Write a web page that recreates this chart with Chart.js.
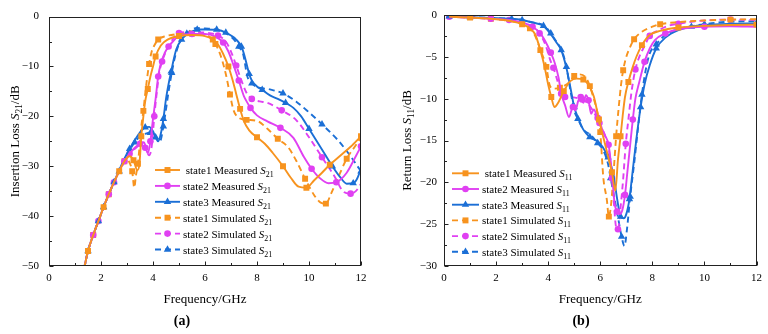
<!DOCTYPE html>
<html>
<head>
<meta charset="utf-8">
<script src="https://cdn.jsdelivr.net/npm/chart.js@4.4.0/dist/chart.umd.min.js"></script>
<style>
    html, body { margin: 0; padding: 0; background: #fff; }
    #wrap { display: flex; width: 768px; height: 334px; }
    canvas { display: block; }
</style>
</head>
<body>
<div id="wrap">
    <canvas id="s21-chart" width="384" height="334"></canvas>
    <canvas id="s11-chart" width="384" height="334"></canvas>
</div>
<script>
// ---- (a) insertion loss S21, frequency in GHz / value in dB ----
const s21MeasF1 = [1.35,1.5,1.7,1.9,2.1,2.3,2.5,2.7,2.9,3.1,3.25,3.4,3.48,3.55,3.62,3.7,3.8,3.9,4.0,4.1,4.3,4.6,5.0,5.5,6.0,6.3,6.5,6.7,6.9,7.05,7.2,7.35,7.5,7.7,8.0,8.3,8.6,9.0,9.3,9.6,9.9,10.2,10.5,10.8,11.2,11.6,12.0];
const s21Meas1  = [-50.5,-47,-43.8,-41,-38.2,-35.6,-33.2,-31,-29,-28,-28.8,-30.8,-29.5,-24,-20.5,-17,-14.5,-12,-10,-8,-5.8,-4.5,-3.9,-3.7,-3.9,-4.6,-5.6,-7.5,-10,-12.5,-15.5,-18.5,-21,-22.8,-24.2,-25.5,-27.3,-30,-32.3,-34.1,-34.3,-32.8,-31.3,-29.7,-27.9,-26.1,-24];

const s21MeasF2 = [1.35,1.5,1.7,1.9,2.1,2.3,2.5,2.7,2.9,3.1,3.3,3.5,3.65,3.8,3.9,4.0,4.1,4.2,4.3,4.45,4.6,4.8,5.0,5.5,6.0,6.4,6.7,6.9,7.1,7.3,7.5,7.6,7.75,8.0,8.4,8.9,9.4,9.8,10.1,10.4,10.75,11.05,11.45,11.8,12.0];
const s21Meas2  = [-50.5,-47,-43.8,-41,-38.2,-35.6,-33.2,-31,-29,-27.5,-26.3,-25.5,-25.2,-27.4,-25,-20.5,-16.5,-12,-9.4,-7.3,-6,-4.8,-3.8,-3.5,-3.5,-4,-5.2,-7,-9.8,-12.8,-16,-17,-18.3,-19.8,-21,-22.3,-24.3,-28.1,-30.5,-32.3,-33.4,-33.2,-31.3,-28,-26];

const s21MeasF3 = [1.35,1.5,1.7,1.9,2.1,2.3,2.5,2.7,2.9,3.1,3.3,3.5,3.7,3.85,4.0,4.1,4.2,4.3,4.4,4.5,4.6,4.7,4.8,4.9,5.1,5.3,5.5,5.7,6.0,6.5,6.8,7.0,7.2,7.4,7.5,7.6,7.7,7.8,8.0,8.2,8.5,8.8,9.1,9.4,9.7,10.0,10.3,10.6,10.9,11.2,11.45,11.7,11.85,12.0];
const s21Meas3  = [-50.5,-47,-43.8,-41,-38.2,-35.6,-33.2,-30.8,-28.5,-26.5,-24.8,-23.2,-22.2,-22.1,-23,-24.2,-25,-23.5,-20.5,-16.5,-13.5,-11,-8.5,-6.5,-4.6,-3.6,-3,-2.6,-2.6,-2.7,-3.2,-3.8,-4.6,-6,-7.5,-9.5,-11.5,-12.8,-14,-14.7,-15.8,-16.5,-17.3,-18.3,-20,-22.5,-25,-27.5,-30,-32.2,-33.5,-33.4,-32.5,-30.5];

const s21SimF1 = [1.35,1.5,1.7,1.9,2.1,2.3,2.5,2.7,2.9,3.0,3.1,3.2,3.28,3.34,3.42,3.5,3.56,3.63,3.7,3.76,3.85,3.95,4.05,4.2,4.5,5.0,5.5,6.0,6.2,6.4,6.6,6.8,6.96,7.1,7.3,7.6,8.0,8.4,8.8,9.2,9.5,9.85,10.2,10.45,10.65,10.85,11.06,11.45,11.8,12.0];
const s21Sim1  = [-50.5,-47,-43.8,-41,-38.2,-35.6,-33.2,-31,-29,-28.7,-29.3,-31,-34.3,-32,-29.5,-25,-21.6,-18.9,-15.5,-12.9,-9.5,-7,-5.8,-4.6,-3.9,-3.5,-3.4,-3.6,-4.2,-5.5,-7.8,-11.5,-15.6,-18.8,-20.3,-20.7,-20.9,-22.5,-24.5,-26.2,-28.8,-32.5,-35.8,-37.3,-37.5,-35.5,-33,-28.5,-25.8,-24.2];

const s21SimF2 = [1.35,1.5,1.7,1.9,2.1,2.3,2.5,2.7,2.9,3.1,3.3,3.5,3.7,3.85,3.95,4.05,4.15,4.25,4.35,4.5,4.7,5.0,5.5,6.0,6.5,6.8,7.0,7.2,7.4,7.6,7.8,8.1,8.4,8.95,9.5,10.0,10.5,11.0,11.3,11.6,11.8,12.0];
const s21Sim2  = [-50.5,-47,-43.8,-41,-38.2,-35.6,-33.2,-31,-29,-27.5,-26.5,-25.8,-26.3,-27.8,-26,-20,-15,-11,-9,-7,-5,-3.3,-3.1,-3.2,-3.8,-5,-7,-9.8,-12.8,-15.3,-16.5,-17,-17.3,-18.8,-20.7,-24.2,-28.2,-32.2,-35,-35.5,-35,-33.5];

const s21SimF3 = [1.35,1.5,1.7,1.9,2.1,2.3,2.5,2.7,2.9,3.1,3.3,3.5,3.7,3.9,4.1,4.27,4.4,4.5,4.6,4.72,4.85,5.04,5.3,5.68,6.0,6.45,6.8,7.1,7.3,7.47,7.63,7.8,8.0,8.5,9.0,9.5,10.0,10.5,11.1,11.5,12.0];
const s21Sim3  = [-50.5,-47,-43.8,-41,-38.2,-35.6,-33.2,-31,-29,-26.8,-25.2,-24,-23.5,-23.3,-24,-25,-22,-18.6,-15,-11.3,-8,-5,-3.4,-2.3,-2.4,-2.6,-3.3,-4.5,-6,-7.6,-12,-13.4,-14.1,-14.6,-15.4,-17,-19.2,-21.6,-24.7,-27.3,-31];

// ---- (b) return loss S11 ----
const s11MeasF1 = [0.2,1.0,1.8,2.6,3.0,3.3,3.5,3.7,3.85,4.0,4.12,4.24,4.4,4.6,4.85,5.1,5.35,5.55,5.75,5.95,6.15,6.3,6.45,6.58,6.68,6.78,6.86,6.95,7.08,7.25,7.4,7.6,7.9,8.3,9.0,10.0,11.0,12.0];
const s11Meas1  = [-0.2,-0.3,-0.45,-0.75,-1.1,-1.6,-2.3,-4.2,-6,-8.3,-9.8,-11,-10.4,-9.1,-7.9,-7.6,-7.7,-8.4,-9.7,-12.5,-15,-16.9,-18.8,-21,-17.3,-14.5,-12.1,-9.8,-8,-6.2,-4.9,-3.6,-2.4,-1.9,-1.5,-1.3,-1.2,-1.15];

const s11MeasF2 = [0.2,1.0,1.8,2.5,3.0,3.4,3.7,3.9,4.1,4.25,4.4,4.5,4.65,4.8,4.95,5.05,5.15,5.25,5.35,5.45,5.55,5.65,5.75,5.9,6.05,6.2,6.32,6.45,6.55,6.65,6.75,6.85,6.95,7.05,7.15,7.25,7.35,7.5,7.7,7.9,8.1,8.5,9.0,9.5,10.0,11.0,12.0];
const s11Meas2  = [-0.2,-0.3,-0.45,-0.6,-0.9,-1.4,-2.2,-3.2,-4.5,-5.7,-7.5,-9.4,-10.8,-12.2,-11,-11.4,-10.3,-9.8,-10.5,-9.6,-10.2,-11.8,-11.3,-12.3,-13.5,-14.5,-15.5,-19,-22.5,-23.5,-23.8,-23.3,-21.5,-18.5,-15.5,-12.5,-10,-8,-5.6,-4,-3,-2.2,-1.7,-1.5,-1.4,-1.35,-1.4];

const s11MeasF3 = [0.2,1.0,1.8,2.6,3.0,3.4,3.82,4.1,4.3,4.5,4.7,4.85,5.0,5.15,5.35,5.6,5.9,6.1,6.3,6.5,6.65,6.78,6.9,7.0,7.12,7.25,7.4,7.55,7.7,7.9,8.15,8.5,9.0,9.5,10.0,11.0,12.0];
const s11Meas3  = [-0.15,-0.25,-0.35,-0.45,-0.6,-0.9,-1.3,-2.3,-3.2,-4.2,-6.3,-8.6,-11,-12.3,-13.7,-14.6,-15.1,-15.8,-17,-19,-22,-24.1,-24.3,-23.8,-22,-18.5,-14.5,-11,-8.3,-6,-4,-2.7,-1.8,-1.4,-1.2,-1.05,-1.0];

const s11SimF1 = [0.2,1.0,1.8,2.6,3.0,3.3,3.5,3.73,3.93,4.05,4.2,4.45,4.65,4.85,5.0,5.2,5.45,5.6,5.75,5.9,6.0,6.12,6.25,6.33,6.42,6.52,6.61,6.71,6.8,6.88,7.0,7.15,7.3,7.6,8.0,8.3,9.0,10.0,11.0,12.0];
const s11Sim1  = [-0.2,-0.3,-0.45,-0.75,-1.1,-1.6,-2.5,-4.4,-6.2,-8.3,-8.8,-8.7,-8.4,-7.9,-7.3,-7.1,-7.5,-8.5,-10,-11.8,-14,-19.5,-22,-24.1,-22.5,-18.5,-14.5,-11,-8.3,-6.6,-5,-3.8,-2.9,-2,-1.4,-1.1,-0.85,-0.65,-0.55,-0.5];

const s11SimF2 = [0.2,1.0,1.8,2.5,3.0,3.4,3.67,3.9,4.08,4.2,4.35,4.5,4.65,4.82,5.08,5.3,5.5,5.71,5.97,6.23,6.35,6.45,6.52,6.6,6.68,6.78,6.88,6.98,7.08,7.2,7.35,7.5,7.7,7.9,8.2,8.6,9.0,9.5,10.0,11.0,12.0];
const s11Sim2  = [-0.2,-0.3,-0.45,-0.6,-0.9,-1.4,-2.2,-3.6,-5.4,-6.3,-7.8,-9.3,-9.8,-9.8,-9.9,-10.1,-10.5,-11.4,-12.9,-14.9,-16.5,-19.5,-22.3,-25.2,-25.6,-23,-19.6,-15.4,-12.5,-9.2,-6.5,-5,-3.7,-2.5,-1.9,-1.3,-1.05,-0.8,-0.65,-0.55,-0.6];

const s11SimF3 = [0.2,1.0,1.8,2.6,3.0,3.4,3.86,4.1,4.3,4.52,4.7,4.82,5.01,5.14,5.33,5.65,5.9,6.1,6.29,6.4,6.55,6.7,6.82,6.93,7.03,7.15,7.3,7.45,7.6,7.75,7.9,8.15,8.5,9.0,10.0,11.0,12.0];
const s11Sim3  = [-0.15,-0.25,-0.35,-0.45,-0.6,-0.9,-1.3,-2.2,-3.1,-4.2,-6.2,-8.4,-11.5,-12.4,-13.6,-14.4,-15.3,-16.1,-17.7,-19.5,-22,-24.5,-26.5,-27.6,-25.5,-21.7,-17.8,-13.5,-9.5,-6.5,-4.6,-3.5,-2.4,-1.7,-1.1,-0.8,-0.75];

const legendNames = [' state1 Measured', 'state2 Measured', 'state3 Measured', 'state1 Simulated', 'state2 Simulated', 'state3 Simulated'];
const freqTicks = [0, 2, 4, 6, 8, 10, 12];

const ORANGE = '#F7931E';
const MAGENTA = '#E040F2';
const BLUE = '#1B6FD6';
const FONT = '"Liberation Serif", "Times New Roman", serif';
const markerSize = { rect: 4.2, circle: 3.3, triangle: 4.3 };

const pts = (xs, ys) => xs.map((x, i) => ({ x, y: ys[i] }));
const minus = v => (v < 0 ? '\u2212' + Math.abs(v) : String(v));

function series(label, xs, ys, color, style, dashed, offset) {
    return {
        label,
        data: pts(xs, ys),
        borderColor: color,
        backgroundColor: color,
        borderWidth: 1.9,
        borderDash: dashed ? [6, 4] : [],
        pointStyle: style,
        pointRadius: ctx => (ctx.dataIndex % 3 === offset ? markerSize[style] : 0),
        pointHoverRadius: 0,
        pointBorderWidth: 0,
        cubicInterpolationMode: 'monotone',
        fill: false,
    };
}

// text with italic S and subscript
function richText(ctx, parts, x, y, size, align) {
    const fontFor = p => `${p.italic ? 'italic ' : ''}${p.sub ? size * 0.72 : size}px ${FONT}`;
    let w = 0;
    parts.forEach(p => { ctx.font = fontFor(p); w += ctx.measureText(p.t).width; });
    let cx = align === 'center' ? x - w / 2 : x;
    ctx.textAlign = 'left';
    ctx.textBaseline = 'alphabetic';
    parts.forEach(p => {
        ctx.font = fontFor(p);
        ctx.fillText(p.t, cx, y + (p.sub ? size * 0.28 : 0));
        cx += ctx.measureText(p.t).width;
    });
}

const decor = {
    id: 'decor',
    afterDatasetsDraw(chart, args, o) {
        const { ctx, chartArea: a, scales: { x, y } } = chart;
        const L = Math.round(a.left) + 0.5, R = Math.round(a.right) - 0.5;
        const T = Math.round(a.top) + 0.5, B = Math.round(a.bottom) - 0.5;
        ctx.save();
        ctx.strokeStyle = '#222';
        ctx.lineWidth = 1;
        ctx.strokeRect(L, T, R - L, B - T);
        ctx.beginPath();
        for (let i = 0; i <= 12; i++) {
            const px = Math.round(x.getPixelForValue(i)) + 0.5;
            ctx.moveTo(px, B);
            ctx.lineTo(px, B - (i % 2 === 0 ? 4 : 2.5));
        }
        const n = Math.round((y.max - y.min) / o.yMinor);
        for (let i = 0; i <= n; i++) {
            const py = Math.round(y.getPixelForValue(y.min + i * o.yMinor)) + 0.5;
            ctx.moveTo(L, py);
            ctx.lineTo(L + (i % 2 === 0 ? 4 : 2.5), py);
        }
        ctx.stroke();
        ctx.restore();
    },
    afterDraw(chart, args, o) {
        const { ctx, chartArea: a } = chart;
        ctx.save();
        ctx.fillStyle = '#000';

        ctx.font = `13px ${FONT}`;
        ctx.textAlign = 'center';
        ctx.textBaseline = 'middle';
        ctx.fillText('Frequency/GHz', (a.left + a.right) / 2, 300);
        ctx.font = `bold 14px ${FONT}`;
        ctx.fillText(o.panel, o.panelX, 321);

        ctx.save();
        ctx.translate(o.yTitleX, (a.top + a.bottom) / 2);
        ctx.rotate(-Math.PI / 2);
        richText(ctx, [{ t: o.yTitle }, { t: 'S', italic: true }, { t: o.sub, sub: true }, { t: '/dB' }], 0, 4.5, 13, 'center');
        ctx.restore();

        const lg = o.legend;
        chart.data.datasets.forEach((ds, i) => {
            const yy = lg.y + i * lg.dy;
            ctx.save();
            ctx.strokeStyle = ds.borderColor;
            ctx.lineWidth = 1.9;
            ctx.setLineDash(ds.borderDash);
            ctx.beginPath();
            ctx.moveTo(lg.x, yy);
            ctx.lineTo(lg.x + lg.len, yy);
            ctx.stroke();
            ctx.setLineDash([]);
            ctx.fillStyle = ds.borderColor;
            Chart.helpers.drawPoint(ctx, { pointStyle: ds.pointStyle, radius: markerSize[ds.pointStyle], rotation: 0, borderWidth: 0 }, lg.x + lg.len / 2, yy);
            ctx.restore();
            ctx.fillStyle = '#000';
            richText(ctx, [{ t: ds.label + ' ' }, { t: 'S', italic: true }, { t: o.sub, sub: true }], lg.textX, yy + 4, 11, 'left');
        });
        ctx.restore();
    }
};

function buildOptions(yMin, yStep, yMinor, yWidth, yPad, padRight, decorOpts) {
    return {
        responsive: false,
        animation: false,
        layout: { padding: { left: 0, top: 15, right: padRight, bottom: 0 } },
        scales: {
            x: {
                type: 'linear',
                min: 0,
                max: 12,
                afterBuildTicks: s => { s.ticks = freqTicks.map(v => ({ value: v })); },
                afterFit: s => { s.height = 68; },
                grid: { display: false, drawTicks: false },
                border: { display: false },
                ticks: { color: '#000', padding: 6, font: { family: FONT, size: 11 } }
            },
            y: {
                min: yMin,
                max: 0,
                afterFit: s => { s.width = yWidth; },
                grid: { display: false, drawTicks: false },
                border: { display: false },
                ticks: { stepSize: yStep, color: '#000', padding: yPad, font: { family: FONT, size: 11 }, callback: minus }
            }
        },
        plugins: {
            legend: { display: false },
            tooltip: { enabled: false },
            decor: Object.assign({ yMinor }, decorOpts)
        }
    };
}

function createS21Chart() {
    const ctx = document.getElementById('s21-chart');
    new Chart(ctx, {
        type: 'line',
        data: {
            datasets: [
                series(legendNames[0], s21MeasF1, s21Meas1, ORANGE, 'rect', false, 1),
                series(legendNames[1], s21MeasF2, s21Meas2, MAGENTA, 'circle', false, 2),
                series(legendNames[2], s21MeasF3, s21Meas3, BLUE, 'triangle', false, 0),
                series(legendNames[3], s21SimF1, s21Sim1, ORANGE, 'rect', true, 2),
                series(legendNames[4], s21SimF2, s21Sim2, MAGENTA, 'circle', true, 0),
                series(legendNames[5], s21SimF3, s21Sim3, BLUE, 'triangle', true, 1),
            ]
        },
        options: buildOptions(-50, 10, 5, 49, 10, 23, {
            panel: '(a)', panelX: 182, yTitleX: 14, yTitle: 'Insertion Loss ', sub: '21',
            legend: { x: 155, len: 25, textX: 183, y: 170, dy: 15.9 }
        }),
        plugins: [decor]
    });
}

function createS11Chart() {
    const ctx = document.getElementById('s11-chart');
    new Chart(ctx, {
        type: 'line',
        data: {
            datasets: [
                series(legendNames[0], s11MeasF1, s11Meas1, ORANGE, 'rect', false, 1),
                series(legendNames[1], s11MeasF2, s11Meas2, MAGENTA, 'circle', false, 2),
                series(legendNames[2], s11MeasF3, s11Meas3, BLUE, 'triangle', false, 0),
                series(legendNames[3], s11SimF1, s11Sim1, ORANGE, 'rect', true, 2),
                series(legendNames[4], s11SimF2, s11Sim2, MAGENTA, 'circle', true, 0),
                series(legendNames[5], s11SimF3, s11Sim3, BLUE, 'triangle', true, 1),
            ]
        },
        options: buildOptions(-30, 5, 2.5, 60, 7, 11, {
            panel: '(b)', panelX: 197, yTitleX: 22, yTitle: 'Return Loss ', sub: '11',
            legend: { x: 68, len: 27, textX: 98, y: 173.3, dy: 15.7 }
        }),
        plugins: [decor]
    });
}

document.addEventListener('DOMContentLoaded', () => {
    createS21Chart();
    createS11Chart();
});
</script>
</body>
</html>
